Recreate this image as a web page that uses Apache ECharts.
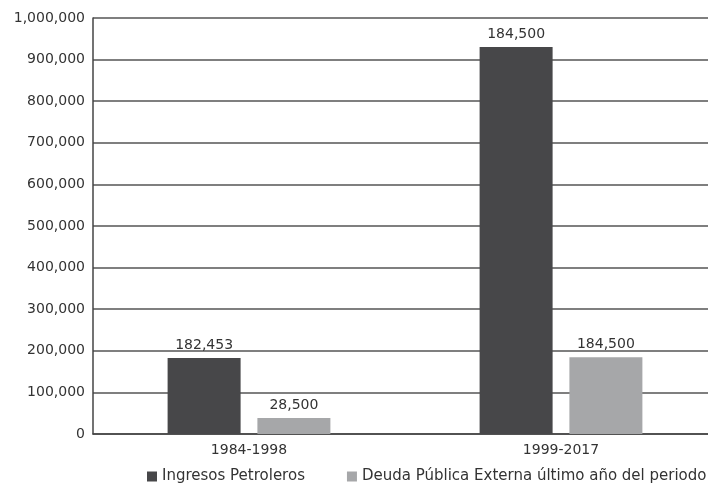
<!DOCTYPE html>
<html><head><meta charset="utf-8">
<script src="https://cdn.jsdelivr.net/npm/echarts@6/dist/echarts.min.js"></script>
<style>html,body{margin:0;padding:0;background:#fff}#c{width:708px;height:483px}</style>
</head><body><div id="c"></div>
<script>
const categories = ['1984-1998', '1999-2017'];
const seriesNames = ['Ingresos Petroleros', 'Deuda Pública Externa último año del periodo'];
const ingresos = [182453, 930000];
const deuda = [38500, 184500];
const ingresosLabels = ['182,453', '184,500'];
const deudaLabels = ['28,500', '184,500'];
const yTicks = { min: 0, max: 1000000, interval: 100000 };

const FONT = 'DejaVu Sans';
const chart = echarts.init(document.getElementById('c'), null, { renderer: 'canvas' });
function lbl(arr) {
  return { show: true, position: 'top', distance: 6, color: '#333', fontFamily: FONT, fontSize: 14,
    formatter: p => arr[p.dataIndex] };
}
chart.setOption({
  animation: false,
  textStyle: { fontFamily: FONT },
  grid: { left: 93, width: 624, top: 18, height: 416, outerBoundsMode: 'none', containLabel: false },
  legend: {
    top: 469, left: 147, itemWidth: 10, itemHeight: 10, itemGap: 42, padding: 0,
    icon: 'rect',
    textStyle: { color: '#333', fontFamily: FONT, fontSize: 15 },
    data: seriesNames
  },
  xAxis: {
    type: 'category', data: categories,
    axisLine: { lineStyle: { color: '#444', width: 1.5 } },
    axisTick: { show: false },
    axisLabel: { color: '#333', fontFamily: FONT, fontSize: 14, margin: 9 }
  },
  yAxis: {
    type: 'value', min: yTicks.min, max: yTicks.max, interval: yTicks.interval,
    axisLine: { show: true, lineStyle: { color: '#444', width: 1.5 } },
    axisTick: { show: false },
    splitLine: { lineStyle: { color: '#555', width: 1.5 } },
    axisLabel: { color: '#333', fontFamily: FONT, fontSize: 14, margin: 8,
      formatter: v => v.toLocaleString('en-US') }
  },
  series: [
    { name: seriesNames[0], type: 'bar', data: ingresos, barWidth: 73, barGap: '23%',
      itemStyle: { color: '#474749' }, label: lbl(ingresosLabels) },
    { name: seriesNames[1], type: 'bar', data: deuda, barWidth: 73,
      itemStyle: { color: '#a6a7a9' }, label: lbl(deudaLabels) }
  ]
});
</script></body></html>
